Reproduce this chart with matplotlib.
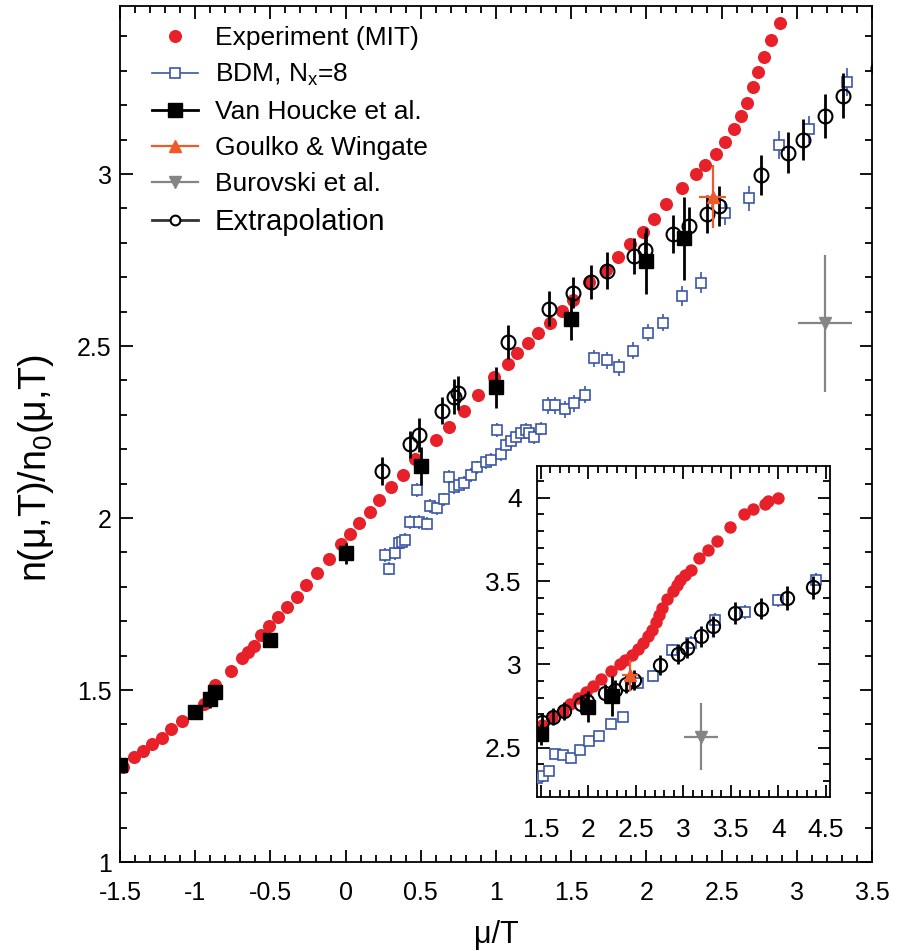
import matplotlib
matplotlib.use('Agg')
import matplotlib.pyplot as plt
from matplotlib.lines import Line2D
from matplotlib.ticker import MultipleLocator

plt.rcParams['font.family'] = ['Liberation Sans', 'DejaVu Sans']
plt.rcParams['mathtext.fontset'] = 'custom'
plt.rcParams['mathtext.rm'] = 'Liberation Sans'
plt.rcParams['mathtext.it'] = 'Liberation Sans:italic'
plt.rcParams['mathtext.bf'] = 'Liberation Sans:bold'
plt.rcParams['axes.unicode_minus'] = False

RED = '#e8202a'
BLUE = '#3b56a8'
ORANGE = '#ef5a2a'
GREY = '#858585'

# ---------------- data ----------------
# Experiment (MIT)
exp_x = [-1.48, -1.41, -1.35, -1.29, -1.22, -1.16, -1.09, -1.01, -0.94, -0.87, -0.76, -0.69,
         -0.65, -0.61, -0.56, -0.51, -0.45, -0.39, -0.32, -0.26, -0.19, -0.11, -0.03, 0.03,
         0.09, 0.16, 0.22, 0.30, 0.38, 0.46, 0.60, 0.69, 0.79, 0.88, 0.99, 1.08, 1.14, 1.21,
         1.28, 1.36, 1.44, 1.51, 1.62, 1.73, 1.81, 1.89, 1.98, 2.05, 2.13, 2.24, 2.33, 2.39,
         2.46, 2.52, 2.58, 2.63, 2.67, 2.71, 2.74, 2.78, 2.83, 2.89]
exp_y = [1.277, 1.306, 1.323, 1.343, 1.361, 1.386, 1.410, 1.432, 1.460, 1.514, 1.555, 1.592,
         1.611, 1.628, 1.660, 1.686, 1.713, 1.742, 1.771, 1.805, 1.839, 1.880, 1.925, 1.954,
         1.986, 2.018, 2.051, 2.090, 2.125, 2.172, 2.227, 2.266, 2.310, 2.358, 2.410, 2.447,
         2.479, 2.508, 2.539, 2.568, 2.602, 2.634, 2.687, 2.721, 2.760, 2.796, 2.832, 2.868,
         2.913, 2.960, 3.000, 3.026, 3.059, 3.094, 3.131, 3.169, 3.208, 3.252, 3.297, 3.339,
         3.391, 3.438]
# higher mu/T part of the experiment, seen only in the inset
exp_hi_x = [2.93, 2.97, 3.02, 3.08, 3.17, 3.26, 3.35, 3.49, 3.64, 3.73, 3.86, 3.89, 4.00]
exp_hi_y = [3.479, 3.509, 3.539, 3.569, 3.640, 3.689, 3.739, 3.826, 3.900, 3.930, 3.960, 3.980, 4.000]

# BDM, N_x = 8
bdm_x = [0.264, 0.287, 0.331, 0.353, 0.376, 0.398, 0.431, 0.476, 0.487, 0.542, 0.564, 0.609,
         0.653, 0.687, 0.720, 0.753, 0.787, 0.831, 0.876, 0.931, 0.964, 1.009, 1.031, 1.064,
         1.098, 1.131, 1.164, 1.198, 1.220, 1.253, 1.298, 1.345, 1.390, 1.460, 1.520, 1.590,
         1.653, 1.736, 1.820, 1.913, 2.009, 2.113, 2.238, 2.364, 2.520, 2.682, 2.880, 3.082,
         3.331, 3.650, 4.000, 4.400]
bdm_y = [1.892, 1.853, 1.897, 1.926, 1.931, 1.936, 1.989, 2.081, 1.989, 1.984, 2.035, 2.028,
         2.054, 2.120, 2.091, 2.096, 2.101, 2.125, 2.147, 2.163, 2.169, 2.256, 2.186, 2.212,
         2.224, 2.236, 2.246, 2.256, 2.246, 2.236, 2.260, 2.328, 2.328, 2.316, 2.333, 2.358,
         2.464, 2.459, 2.438, 2.486, 2.539, 2.568, 2.645, 2.684, 2.886, 2.929, 3.084, 3.130,
         3.268, 3.315, 3.385, 3.509]
bdm_err = [0.02, 0.02, 0.02, 0.02, 0.02, 0.02, 0.02, 0.02, 0.02, 0.02, 0.02, 0.02,
           0.02, 0.02, 0.02, 0.02, 0.02, 0.02, 0.02, 0.02, 0.02, 0.02, 0.02, 0.02,
           0.02, 0.02, 0.02, 0.02, 0.02, 0.02, 0.02, 0.025, 0.025, 0.025, 0.025, 0.025,
           0.025, 0.025, 0.025, 0.025, 0.025, 0.025, 0.03, 0.03, 0.035, 0.035, 0.04, 0.04,
           0.04, 0.04, 0.04, 0.04]

# Van Houcke et al.
vh_x = [-1.5, -1.0, -0.9, -0.87, -0.5, 0.0, 0.5, 1.0, 1.5, 2.0, 2.25]
vh_y = [1.281, 1.437, 1.473, 1.494, 1.645, 1.897, 2.151, 2.380, 2.580, 2.747, 2.813]
vh_err = [0.01, 0.015, 0.025, 0.02, 0.02, 0.03, 0.055, 0.06, 0.063, 0.095, 0.12]

# Goulko & Wingate
gw_x = [2.44]
gw_y = [2.934]
gw_xerr = [0.087]
gw_yerr = [0.092]

# Burovski et al.
bu_x = [3.19]
bu_y = [2.566]
bu_xerr = [0.18]
bu_yerr = [0.20]

# Extrapolation
ex_x = [0.24, 0.43, 0.49, 0.64, 0.72, 0.75, 1.08, 1.35, 1.51, 1.63, 1.74, 1.92, 1.99, 2.18,
        2.28, 2.40, 2.48, 2.76, 2.94, 3.04, 3.19, 3.31, 3.54, 3.82, 4.09, 4.37]
ex_y = [2.136, 2.214, 2.241, 2.312, 2.353, 2.364, 2.512, 2.609, 2.655, 2.687, 2.719, 2.761,
        2.779, 2.826, 2.849, 2.884, 2.906, 2.997, 3.062, 3.100, 3.169, 3.228, 3.309, 3.335,
        3.399, 3.463]
ex_err = [0.04, 0.04, 0.05, 0.04, 0.05, 0.05, 0.05, 0.05, 0.045, 0.05, 0.053, 0.053, 0.05,
          0.056, 0.056, 0.056, 0.058, 0.058, 0.06, 0.06, 0.063, 0.065, 0.065, 0.065, 0.07, 0.07]

main_xticks = [-1.5, -1, -0.5, 0, 0.5, 1, 1.5, 2, 2.5, 3, 3.5]
main_xlabels = ['-1.5', '-1', '-0.5', '0', '0.5', '1', '1.5', '2', '2.5', '3', '3.5']
main_yticks = [1, 1.5, 2, 2.5, 3]
main_ylabels = ['1', '1.5', '2', '2.5', '3']
ins_xticks = [1.5, 2, 2.5, 3, 3.5, 4, 4.5]
ins_xlabels = ['1.5', '2', '2.5', '3', '3.5', '4', '4.5']
ins_yticks = [2.5, 3, 3.5, 4]
ins_ylabels = ['2.5', '3', '3.5', '4']

legend_labels = ['Experiment (MIT)', r'BDM, N$_\mathregular{x}$=8', 'Van Houcke et al.',
                 'Goulko & Wingate', 'Burovski et al.', 'Extrapolation']

# ---------------- figure ----------------
W, H = 902, 951
fig = plt.figure(figsize=(W / 100, H / 100), dpi=100)
ax = fig.add_axes([120 / W, 1 - 862 / H, (872 - 120) / W, (862 - 5.5) / H])
ax2 = fig.add_axes([537 / W, 1 - 797 / H, (830 - 537) / W, (797 - 466) / H])


def draw(a, s=1.0):
    a.plot(exp_x, exp_y, 'o', color=RED, ms=9.4 * s, mec='none', zorder=2)
    a.errorbar(bdm_x, bdm_y, yerr=bdm_err, fmt='s', mfc='white', mec=BLUE, ecolor=BLUE,
               ms=7 * s, mew=1.2, elinewidth=1.2, capsize=0, zorder=3)
    a.errorbar(vh_x, vh_y, yerr=vh_err, fmt='s', color='black', ms=10.5 * s,
               elinewidth=2, capsize=0, zorder=4)
    a.errorbar(ex_x, ex_y, yerr=ex_err, fmt='o', mfc='none', mec='black', ecolor='black',
               ms=10 * s, mew=1.5, elinewidth=2, capsize=0, zorder=5)
    a.errorbar(gw_x, gw_y, xerr=gw_xerr, yerr=gw_yerr, fmt='^', color=ORANGE, ms=9 * s,
               elinewidth=1.6, capsize=0, zorder=6)
    a.errorbar(bu_x, bu_y, xerr=bu_xerr, yerr=bu_yerr, fmt='v', color=GREY, ms=9 * s,
               elinewidth=1.6, capsize=0, zorder=6)


draw(ax)
draw(ax2, 0.95)
ax2.plot(exp_hi_x, exp_hi_y, 'o', color=RED, ms=9.4 * 0.95, mec='none', zorder=2)

# main axes styling
ax.set_xlim(-1.5, 3.5)
ax.set_ylim(1.0, 3.49)
ax.set_xticks(main_xticks, labels=main_xlabels, fontsize=18)
ax.set_yticks(main_yticks, labels=main_ylabels, fontsize=18)
ax.xaxis.set_minor_locator(MultipleLocator(0.1))
ax.yaxis.set_minor_locator(MultipleLocator(0.1))
ax.tick_params(which='both', direction='in', top=True, right=True, width=1.3)
ax.tick_params(which='major', length=9)
ax.tick_params(which='minor', length=5)
ax.tick_params(axis='x', pad=14)
ax.tick_params(axis='y', pad=6)
for sp in ax.spines.values():
    sp.set_linewidth(1.3)

ax.set_xlabel('μ/T', fontsize=22)
ax.xaxis.set_label_coords(0.5, -0.068)
ax.set_ylabel('n(μ,T)/n$_\\mathregular{0}$(μ,T)', fontsize=27)
ax.yaxis.set_label_coords(-0.085, 0.46)

# inset styling
ax2.set_xlim(1.46, 4.545)
ax2.set_ylim(2.205, 4.19)
ax2.set_xticks(ins_xticks, labels=ins_xlabels, fontsize=19)
ax2.set_yticks(ins_yticks, labels=ins_ylabels, fontsize=19)
ax2.xaxis.set_minor_locator(MultipleLocator(0.1))
ax2.yaxis.set_minor_locator(MultipleLocator(0.1))
ax2.tick_params(which='both', direction='in', top=True, right=True, width=1.3)
ax2.tick_params(which='major', length=9)
ax2.tick_params(which='minor', length=5)
ax2.tick_params(axis='x', pad=15)
ax2.tick_params(axis='y', pad=11)
for sp in ax2.spines.values():
    sp.set_linewidth(1.3)

# legend
handles = [
    Line2D([], [], ls='none', marker='o', color=RED, ms=9.4, mec='none'),
    Line2D([], [], color=BLUE, lw=1.2, marker='s', mfc='white', mec=BLUE, ms=7, mew=1.2),
    Line2D([], [], color='black', lw=2, marker='s', ms=10),
    Line2D([], [], color=ORANGE, lw=1.6, marker='^', ms=9),
    Line2D([], [], color=GREY, lw=1.6, marker='v', ms=9),
    Line2D([], [], color='#333333', lw=2, marker='o', mfc='white', mec='black', ms=7, mew=1.5),
]
leg = ax.legend(handles, legend_labels, loc='upper left', bbox_to_anchor=(0.042, 0.976),
                frameon=False, fontsize=19, handlelength=1.75, handletextpad=0.65,
                labelspacing=0.45, borderpad=0, borderaxespad=0)
leg.get_texts()[-1].set_fontsize(21)

fig.savefig('out.png', dpi=100)
